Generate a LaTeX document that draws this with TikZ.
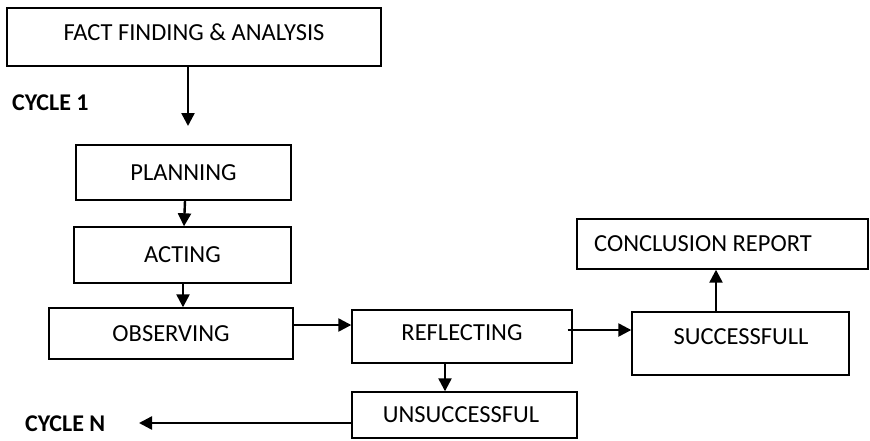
\documentclass[tikz,border=0pt]{standalone}
\usepackage{fontspec}
\setmainfont{Carlito}
\usetikzlibrary{arrows.meta}
\tikzset{
  box/.style={draw=black, line width=1.4pt, rectangle, inner sep=0pt, font=\fontsize{24.5}{27}\selectfont},
  lbl/.style={inner sep=0pt, font=\fontsize{24.5}{27}\selectfont},
  blbl/.style={inner sep=0pt, anchor=west, font=\fontsize{24}{27}\selectfont\bfseries},
  arr/.style={line width=2.4pt, -{Triangle[length=13pt,width=13pt]}}
}
\begin{document}
\begin{tikzpicture}[x=1pt,y=-1pt]
\useasboundingbox (0,0) rectangle (870,440);
% boxes
\node[box, minimum width=374pt, minimum height=58pt] (fact) at (194,37) {};
\node[lbl] (factt) at (194,32) {FACT FINDING \& ANALYSIS};
\node[box, minimum width=215pt, minimum height=55pt] (plan) at (183.5,172.5) {PLANNING};
\node[box, minimum width=217pt, minimum height=56pt] (act) at (182.5,255) {ACTING};
\node[box, minimum width=244pt, minimum height=51pt] (obs) at (171,333.5) {OBSERVING};
\node[box, minimum width=220pt, minimum height=53pt] (refl) at (462,336.5) {};
\node[lbl] (reflt) at (462,333) {REFLECTING};
\node[box, minimum width=217pt, minimum height=63pt] (succ) at (740.5,343.5) {};
\node[lbl] (succt) at (741,337) {SUCCESSFULL};
\node[box, minimum width=291pt, minimum height=50pt] (concl) at (722.5,244) {};
\node[lbl] (conclt) at (703,244) {CONCLUSION REPORT};
\node[box, minimum width=225pt, minimum height=46pt] (unsucc) at (464.5,415) {};
\node[lbl] (unsucct) at (461,415) {UNSUCCESSFUL};
\node[blbl] (cyc1) at (12,103) {CYCLE 1};
\node[blbl] (cycn) at (25,424) {CYCLE N};
% free ends
\coordinate (c1) at (188,126);
\coordinate (cn) at (139,423);
% arrows
\draw[arr] (fact.south -| c1) -- (c1);
\draw[arr] ([xshift=1.5pt]plan.south) -- ([xshift=1.5pt]act.north);
\draw[arr] ([xshift=0.5pt]act.south) -- (obs.north -| 183,0);
\draw[arr] ([yshift=8.5pt]obs.east) -- ([yshift=8.5pt]obs.east -| refl.west);
\draw[arr] ([xshift=-5pt,yshift=6.5pt]refl.east) -- ([yshift=6.5pt]refl.east -| succ.west);
\draw[arr] (succ.north -| 716,0) -- (concl.south -| 716,0);
\draw[arr] (refl.south -| 445,0) -- (unsucc.north -| 445,0);
\draw[arr] ([yshift=-8pt]unsucc.west) -- (cn);
\end{tikzpicture}
\end{document}
